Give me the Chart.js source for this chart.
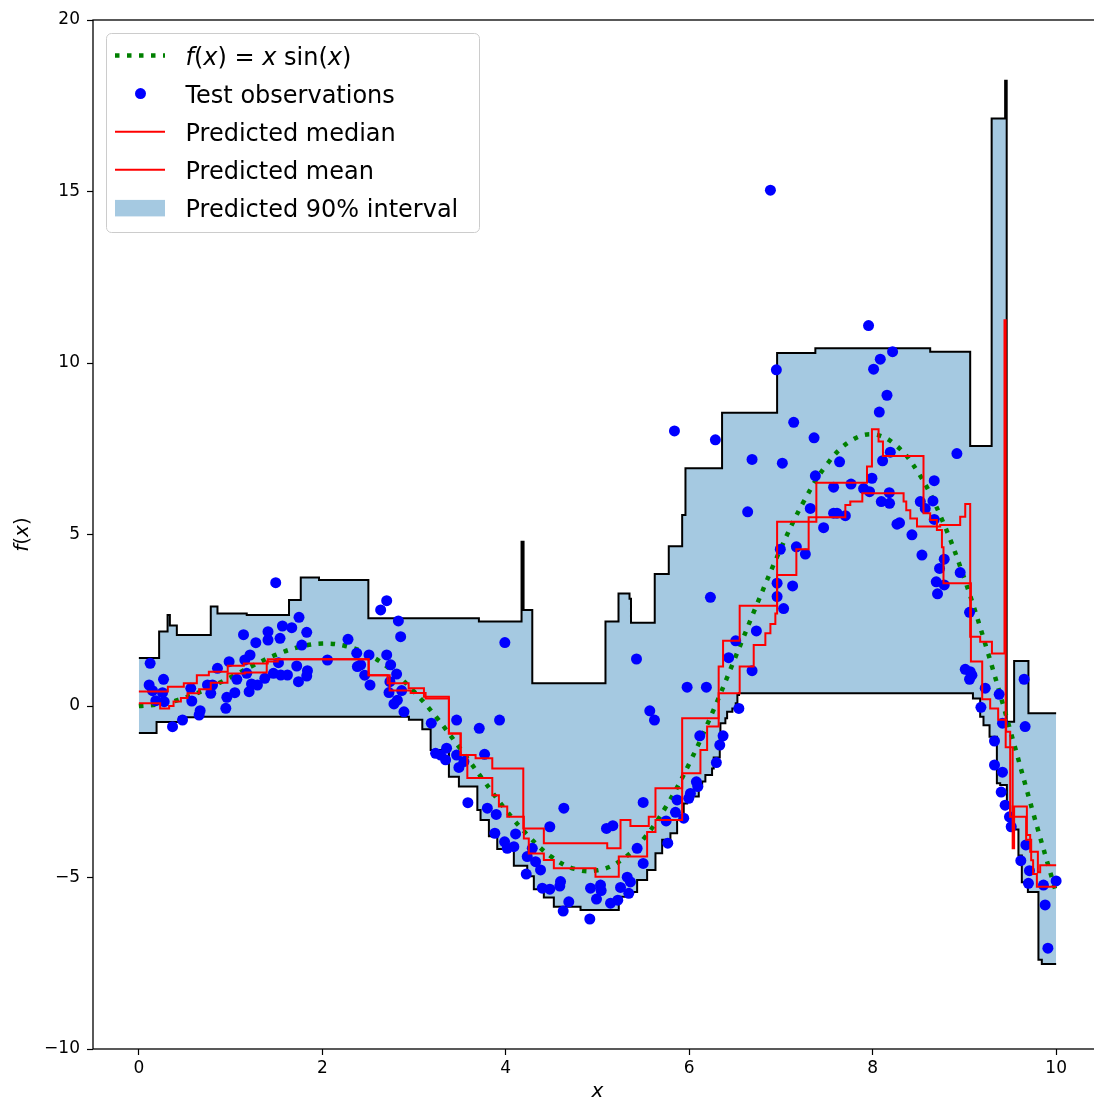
<!DOCTYPE html>
<html>
<head>
<meta charset="utf-8">
<script src="https://cdn.jsdelivr.net/npm/chart.js@4.4.1/dist/chart.umd.min.js"></script>
<style>
  html, body { margin: 0; padding: 0; overflow: hidden; background: #fff; }
  canvas { position: absolute; left: 0; top: 0; }
</style>
</head>
<body>
<canvas id="chart" width="1110" height="1102"></canvas>
<script>
// f(x) = x sin(x), sampled every 0.25
const curveX = [0, 0.25, 0.5, 0.75, 1, 1.25, 1.5, 1.75, 2, 2.25, 2.5, 2.75, 3, 3.25, 3.5, 3.75, 4, 4.25, 4.5, 4.75,
  5, 5.25, 5.5, 5.75, 6, 6.25, 6.5, 6.75, 7, 7.25, 7.5, 7.75, 8, 8.25, 8.5, 8.75, 9, 9.25, 9.5, 9.75, 10];
const curveY = [0, 0.06, 0.24, 0.51, 0.84, 1.19, 1.50, 1.72, 1.82, 1.75, 1.50, 1.05, 0.42, -0.35, -1.23, -2.14, -3.03, -3.80, -4.40, -4.75,
  -4.79, -4.51, -3.88, -2.92, -1.68, -0.21, 1.40, 3.04, 4.60, 5.97, 7.04, 7.71, 7.92, 7.61, 6.79, 5.47, 3.71, 1.61, -0.71, -3.12, -5.44];

// test observations
const obsX = [
  0.123, 0.112, 0.149, 0.269, 0.258, 0.185, 0.276, 0.367, 0.476, 0.566, 0.577, 0.668, 0.657, 0.748, 0.784, 0.803, 0.857, 0.948, 0.959, 0.984,
  1.046, 1.068, 1.141, 1.155, 1.176, 1.212, 1.202, 1.228, 1.275, 1.293, 1.373, 1.408, 1.408, 1.467, 1.492, 1.522, 1.539, 1.565, 1.547, 1.620,
  1.667, 1.721, 1.746, 1.776, 1.830, 1.838, 1.830, 1.740, 2.056, 2.280,
  2.702, 2.636, 2.829, 2.854, 2.375, 2.382, 2.418, 2.509, 2.462, 2.520, 2.702, 2.745, 2.810, 2.737, 2.727, 2.818, 2.781, 2.865, 2.890, 3.188,
  3.464, 3.711, 3.932, 3.990, 3.235, 3.290, 3.355, 3.344, 3.464, 3.489, 3.544, 3.769,
  5.570, 5.621, 3.587, 3.799, 3.896, 3.881, 4.107, 4.088, 3.987, 4.016, 4.289, 4.234, 4.325, 4.379, 4.223, 4.398, 4.480, 4.597, 4.589, 4.687,
  4.626, 4.633, 4.480, 4.916, 4.924, 5.033, 5.040, 4.989, 5.142, 5.251, 5.324, 5.359, 5.341, 5.432, 5.498, 5.098, 5.167, 5.498, 5.748, 5.850,
  5.766, 5.221,
  6.541, 6.369, 6.333, 6.115, 6.296, 6.078, 6.093, 6.013, 5.995, 5.940, 5.868,
  5.839, 6.285, 6.685, 7.015, 7.139, 7.361, 7.639, 7.375, 7.574, 6.637, 7.320, 7.574, 7.611, 7.702, 7.465, 6.993, 7.168, 7.266, 6.958, 7.127,
  6.958, 7.029, 6.231, 6.732, 6.507, 6.430, 6.685, 5.425, 5.977, 6.187,
  7.955, 8.217, 8.083, 8.010, 8.156, 8.072, 7.764, 7.901, 7.966, 7.992, 8.192, 8.108, 8.094, 8.184, 8.181, 8.265, 8.293, 8.428, 8.519, 8.573,
  8.657, 8.671, 8.537, 8.671, 8.780, 8.729, 8.954, 8.693, 8.780, 8.707, 8.918, 9.056, 6.950, 6.885,
  9.009, 9.063, 9.056, 9.082, 9.227, 9.379, 9.180, 9.651, 9.662, 9.415, 9.328, 9.328, 9.415, 9.401, 9.444, 9.491, 9.510, 9.670, 9.615, 9.709,
  9.698, 9.862, 10.0, 9.880, 9.910
];
const obsY = [
  1.245, 0.612, 0.446, 0.778, 0.388, 0.155, 0.125, -0.603, -0.408, 0.516, 0.146, -0.137, -0.262, 0.612, 0.370, 0.612, 1.099, -0.067, 0.254, 1.292,
  0.388, 0.778, 2.079, 1.341, 0.953, 1.487, 0.417, 0.641, 1.845, 0.612, 0.808, 2.166, 1.924, 0.953, 3.595, 1.262, 1.974, 2.332, 0.904, 0.904,
  2.283, 1.166, 2.586, 1.778, 2.149, 1.029, 0.875, 0.708, 1.341, 1.945,
  3.07, 2.80, 2.48, 2.02, 1.54, 1.15, 1.20, 1.49, 0.90, 0.61, 1.49, 1.20, 0.93, 0.71, 0.39, 0.17, 0.06, 0.45, -0.17, -0.50,
  -0.41, -0.65, -0.41, 1.85, -1.38, -1.43, -1.23, -1.57, -1.43, -1.79, -1.62, -1.41,
  -0.14, -0.41, -2.82, -2.98, -3.16, -3.71, -3.73, -4.10, -3.96, -4.15, -4.15, -4.39, -4.54, -4.78, -4.90, -5.31, -5.34, -5.12, -5.25, -5.71,
  -5.98, -2.98, -3.52, -6.21, -5.31, -5.22, -5.38, -5.63, -5.75, -5.29, -4.99, -5.13, -5.46, -4.15, -4.59, -3.57, -3.49, -2.81, -3.35, -3.10,
  -4.00, -5.66,
  -0.07, -0.87, -1.14, -0.87, -1.65, -2.21, -2.35, -2.55, -2.69, -3.27, -2.74,
  8.02, 7.76, 7.19, 7.08, 8.27, 7.82, 7.12, 6.71, 6.38, 5.66, 5.76, 5.62, 5.62, 5.55, 5.20, 4.57, 4.64, 4.43, 3.58, 3.50,
  3.19, 2.84, 3.17, 2.19, 1.90, 1.41, 1.03, 1.37, 0.55, 0.55,
  11.09, 10.33, 10.11, 9.82, 9.06, 8.57, 6.47, 6.34, 6.25, 6.64, 7.40, 7.15, 5.96, 5.91, 6.22, 5.30, 5.34, 4.99, 5.96, 5.76,
  5.98, 6.57, 4.40, 5.44, 4.28, 4.01, 3.89, 3.62, 3.53, 3.27, 7.36, 2.73, 9.80, 15.04,
  1.07, 1.00, 0.78, 0.90, 0.52, 0.34, -0.04, 0.78, -0.60, -0.50, -1.02, -1.72, -1.93, -2.51, -2.89, -3.23, -3.52, -4.05, -4.51, -4.80,
  -5.17, -5.22, -5.10, -5.80, -7.06
];

// step edges: each value holds from its x until the next x
const medianX = [0, 0.316, 0.490, 0.632, 0.763, 0.969, 1.144, 1.405, 2.505, 2.712, 2.941, 3.108, 3.380, 3.508, 3.671,
  3.853, 4.191, 4.415, 5.106, 5.251, 5.359, 5.559, 5.632, 5.923, 6.321, 6.369, 6.550, 6.958, 7.386, 7.938,
  7.992, 8.064, 8.112, 8.554, 8.627, 8.700, 8.755, 8.772, 9.071, 9.194, 9.281, 9.368, 9.455, 9.499, 9.673,
  9.728, 9.749, 9.790, 10];
const medianY = [0.42, 0.56, 0.66, 0.90, 1.00, 1.17, 1.24, 1.36, 0.90, 0.66, 0.52, 0.27, -0.80, -1.43, -1.52,
  -1.82, -3.57, -4.00, -4.15, -3.32, -3.50, -3.23, -2.40, -0.36, 1.15, 1.90, 2.92, 5.37, 6.51, 6.98,
  8.07, 7.71, 7.29, 5.62, 5.42, 5.13, 4.63, 3.58, 1.30, 0.20, -0.07, -0.40, -0.75, -3.23, -3.90,
  -4.50, -4.90, -5.27, -5.27];

const meanX = [0, 0.232, 0.330, 0.378, 0.458, 0.530, 0.657, 0.784, 0.966, 1.155, 1.394, 1.514, 2.505, 2.734, 2.963,
  3.126, 3.380, 3.508, 3.581, 3.853, 3.925, 4.016, 4.197, 4.251, 4.415, 4.524, 4.978, 5.232, 5.541, 5.632,
  5.923, 6.122, 6.195, 6.321, 6.550, 6.703, 6.830, 6.885, 6.939, 6.958, 7.168, 7.302, 7.702, 7.756, 7.887,
  8.337, 8.366, 8.410, 8.483, 8.736, 8.954, 9.009, 9.063, 9.172, 9.300, 9.437, 9.450, 9.526, 9.542, 9.681,
  9.717, 9.801, 9.826, 10];
const meanY = [0.08, -0.07, 0.00, 0.13, 0.23, 0.37, 0.49, 0.68, 0.95, 0.98, 1.30, 1.36, 0.90, 0.45, 0.38,
  0.22, -0.80, -1.43, -2.10, -2.60, -2.93, -3.23, -3.86, -4.30, -4.49, -4.73, -4.98, -4.39, -3.67, -3.32,
  -1.96, -1.28, -0.60, 0.37, 1.15, 1.78, 2.12, 2.39, 2.70, 3.82, 4.57, 5.50, 5.86, 5.96, 6.20,
  5.96, 5.71, 5.47, 5.23, 5.28, 5.52, 5.89, 2.02, 1.87, 1.53, 11.25, -1.20, -4.15, -2.93, -3.76,
  -4.25, -4.85, -4.64, -4.64];

const upperX = [0, 0.221, 0.313, 0.338, 0.414, 0.784, 0.857, 1.176, 1.637, 1.765, 1.964, 2.502, 3.707, 4.172, 4.194,
  4.289, 5.087, 5.229, 5.349, 5.365, 5.624, 5.777, 5.923, 5.959, 6.358, 6.958, 7.375, 8.627, 9.063, 9.297,
  9.444, 9.461, 9.542, 9.698, 10];
const upperY = [1.40, 2.17, 2.65, 2.35, 2.07, 2.90, 2.70, 2.65, 3.09, 3.75, 3.67, 2.56, 2.46, 4.79, 2.80,
  0.66, 2.46, 3.28, 3.13, 2.43, 3.85, 4.66, 5.57, 6.93, 8.55, 10.29, 10.43, 10.33, 7.58, 17.13,
  18.23, -0.46, 1.31, -0.21, -0.21];

const lowerX = [0, 0.193, 0.439, 0.654, 2.944, 3.090, 3.181, 3.380, 3.489, 3.690, 3.725, 3.816, 3.907, 4.088,
  4.234, 4.306, 4.415, 4.524, 4.815, 5.232, 5.324, 5.432, 5.541, 5.632, 5.705, 5.795, 5.868, 5.940, 5.977,
  6.104, 6.141, 6.176, 6.249, 6.267, 6.333, 6.340, 6.394, 6.413, 6.470, 6.507, 6.525, 6.543, 9.093, 9.172,
  9.208, 9.274, 9.354, 9.390, 9.463, 9.499, 9.553, 9.589, 9.626, 9.692, 9.807, 9.844, 10];
const lowerY = [-0.79, -0.47, -0.33, -0.31, -0.40, -0.68, -1.28, -2.06, -2.35, -3.03, -3.32, -3.80, -4.17, -4.66,
  -4.96, -5.34, -5.58, -5.85, -5.95, -5.56, -5.42, -5.07, -4.78, -4.29, -3.90, -3.71, -3.32, -2.84, -2.64,
  -2.35, -2.20, -2.01, -1.82, -1.50, -0.80, -0.50, -0.36, -0.17, -0.07, 0.08, 0.32, 0.37, 0.22, -0.31,
  -0.56, -0.90, -2.25, -2.30, -2.92, -3.51, -3.60, -4.36, -5.14, -5.42, -7.40, -7.52, -7.52];

const xTicks = [0, 2, 4, 6, 8, 10];
const yTicks = [-10, -5, 0, 5, 10, 15, 20];

const BAND = '#a5c9e1';
const FONT = '"DejaVu Sans"';

const pts = (xs, ys) => xs.map((x, i) => ({ x, y: ys[i] }));

function drawMath(ctx, parts, x, y, size) {
  let cx = x;
  for (const [txt, italic] of parts) {
    ctx.font = (italic ? 'italic ' : '') + size + 'px ' + FONT;
    ctx.fillText(txt, cx, y);
    cx += ctx.measureText(txt).width;
  }
  return cx - x;
}

function mathWidth(ctx, parts, size) {
  let w = 0;
  for (const [txt, italic] of parts) {
    ctx.font = (italic ? 'italic ' : '') + size + 'px ' + FONT;
    w += ctx.measureText(txt).width;
  }
  return w;
}

const fxParts = [['f', 1], ['(', 0], ['x', 1], [')', 0]];
const fxLegend = [['f', 1], ['(', 0], ['x', 1], [')', 0], [' = ', 0], ['x', 1], [' sin', 0], ['(', 0], ['x', 1], [')', 0]];

const decorations = {
  id: 'decorations',
  afterDatasetsDraw(chart) {
    const { ctx, chartArea: a } = chart;
    ctx.save();
    ctx.strokeStyle = '#000';
    ctx.lineWidth = 1.3;
    ctx.strokeRect(a.left, a.top, a.right - a.left, a.bottom - a.top);
    ctx.restore();
  },
  afterDraw(chart) {
    const ctx = chart.ctx;
    ctx.save();

    // axis titles
    ctx.fillStyle = '#000';
    ctx.textBaseline = 'middle';
    ctx.textAlign = 'center';
    ctx.font = 'italic 20px ' + FONT;
    ctx.fillText('x', 597.5, 1092);
    ctx.textAlign = 'left';
    ctx.save();
    ctx.translate(23, 534.5);
    ctx.rotate(-Math.PI / 2);
    const fw = mathWidth(ctx, fxParts, 20);
    drawMath(ctx, fxParts, -fw / 2, 0, 20);
    ctx.restore();

    // legend box
    ctx.beginPath();
    ctx.roundRect(106.5, 33.5, 373, 199, 5);
    ctx.fillStyle = 'rgba(255,255,255,0.8)';
    ctx.fill();
    ctx.strokeStyle = '#cccccc';
    ctx.lineWidth = 1;
    ctx.stroke();

    const base = [64.5, 102.6, 140.7, 178.8, 216.9];
    const hx0 = 115, hx1 = 165;

    ctx.strokeStyle = '#008000';
    ctx.lineWidth = 4.5;
    ctx.setLineDash([4.5, 7.5]);
    ctx.beginPath();
    ctx.moveTo(hx0, base[0] - 9);
    ctx.lineTo(hx1, base[0] - 9);
    ctx.stroke();
    ctx.setLineDash([]);

    ctx.fillStyle = '#0000ff';
    ctx.beginPath();
    ctx.arc(140.5, base[1] - 9, 5.5, 0, Math.PI * 2);
    ctx.fill();

    ctx.strokeStyle = '#ff0000';
    ctx.lineWidth = 2;
    [base[2], base[3]].forEach((b) => {
      ctx.beginPath();
      ctx.moveTo(hx0, b - 9);
      ctx.lineTo(hx1, b - 9);
      ctx.stroke();
    });

    ctx.fillStyle = BAND;
    ctx.fillRect(hx0, base[4] - 17, hx1 - hx0, 16.5);

    ctx.fillStyle = '#000';
    ctx.textBaseline = 'alphabetic';
    drawMath(ctx, fxLegend, 185.5, base[0], 24);
    ctx.font = '24px ' + FONT;
    ctx.fillText('Test observations', 185.5, base[1]);
    ctx.fillText('Predicted median', 185.5, base[2]);
    ctx.fillText('Predicted mean', 185.5, base[3]);
    ctx.fillText('Predicted 90% interval', 185.5, base[4]);
    ctx.restore();
  }
};

const lineDefaults = { showLine: true, pointRadius: 0, pointHoverRadius: 0, fill: false };

new Chart(document.getElementById('chart'), {
  type: 'scatter',
  data: {
    datasets: [
      { ...lineDefaults, label: 'Predicted median', data: pts(medianX, medianY), stepped: 'before',
        borderColor: '#ff0000', borderWidth: 2, order: 0 },
      { ...lineDefaults, label: 'Predicted mean', data: pts(meanX, meanY), stepped: 'before',
        borderColor: '#ff0000', borderWidth: 2, order: 1 },
      { label: 'Test observations', data: pts(obsX, obsY), showLine: false,
        pointRadius: 5.5, pointHoverRadius: 5.5, pointBorderWidth: 0,
        backgroundColor: '#0000ff', borderColor: '#0000ff', order: 2 },
      { ...lineDefaults, label: 'f(x) = x sin(x)', data: pts(curveX, curveY), tension: 0.4,
        borderColor: '#008000', borderWidth: 4.5, borderDash: [4.5, 7.5], order: 3 },
      { ...lineDefaults, label: 'lower', data: pts(lowerX, lowerY), stepped: 'before',
        borderColor: '#000', borderWidth: 2, order: 4 },
      { ...lineDefaults, label: 'upper', data: pts(upperX, upperY), stepped: 'before',
        borderColor: '#000', borderWidth: 2, backgroundColor: BAND,
        fill: { target: 4, above: BAND, below: BAND }, order: 5 }
    ]
  },
  options: {
    responsive: false,
    animation: false,
    events: [],
    layout: { padding: { top: 20, right: 8, left: 0, bottom: 0 } },
    plugins: {
      legend: { display: false },
      tooltip: { enabled: false },
      filler: { drawTime: 'beforeDatasetsDraw' }
    },
    scales: {
      x: {
        type: 'linear', min: -0.5, max: 10.5,
        afterBuildTicks: (s) => { s.ticks = xTicks.map((v) => ({ value: v })); },
        afterFit: (s) => { s.height = 53; },
        grid: { drawOnChartArea: false, drawTicks: true, tickLength: 6, tickColor: '#000', tickWidth: 1.2 },
        border: { display: false },
        ticks: { font: { family: 'DejaVu Sans', size: 17 }, color: '#000', padding: 3, maxRotation: 0, autoSkip: false }
      },
      y: {
        type: 'linear', min: -10, max: 20,
        afterBuildTicks: (s) => { s.ticks = yTicks.map((v) => ({ value: v })); },
        afterFit: (s) => { s.width = 93; },
        grid: { drawOnChartArea: false, drawTicks: true, tickLength: 6, tickColor: '#000', tickWidth: 1.2 },
        border: { display: false },
        ticks: {
          font: { family: 'DejaVu Sans', size: 17 }, color: '#000', padding: 7, autoSkip: false,
          callback: (v) => String(v).replace('-', '\u2212')
        }
      }
    }
  },
  plugins: [decorations]
});
</script>
</body>
</html>
